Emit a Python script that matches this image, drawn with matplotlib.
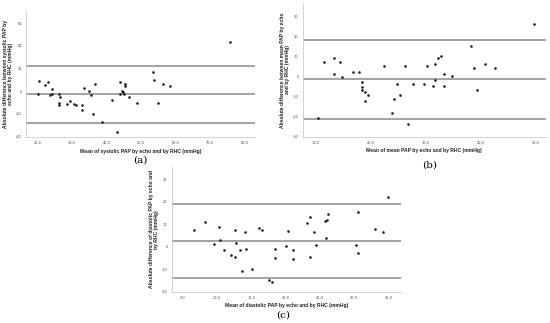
import matplotlib
matplotlib.use("Agg")
import matplotlib.pyplot as plt
import numpy as np

# ---- Data ----
a_x = [20.1, 20.6, 22.1, 23.2, 23.7, 24.1, 24.2, 26.2, 26.2, 26.2, 26.7, 28.6, 29.6, 30.6,
       31.1, 33.0, 33.0, 33.6, 35.0, 35.6, 36.1, 36.6, 38.6, 41.5, 43.0, 44.0, 44.0, 44.5,
       44.9, 45.1, 45.4, 45.4, 46.5, 49.0, 53.4, 53.9, 55.0, 56.4, 58.5, 75.8]
a_y = [-2.4, 8.9, 5.6, 7.7, -3.2, 1.8, -2.4, -2.4, -10.3, -12.1, -5.3, -11.2, -9.1, -11.2,
       -12.4, -12.1, -16.2, 2.7, 0.0, -3.2, -20.1, 6.5, -27.1, -7.4, -36.3, 8.0, -2.4, 0.6,
       -0.3, -2.4, 6.5, 4.7, -5.3, -10.3, 16.8, 10.0, -10.3, 6.8, 4.7, 43.7]
a_lines = [22.7, -2.9, -28.0]

b_x = [10.4, 11.4, 13.3, 13.3, 14.3, 14.8, 16.8, 17.8, 18.3, 18.3, 18.3, 18.9, 18.9, 19.4,
       22.3, 23.8, 24.2, 24.8, 25.3, 26.2, 26.8, 27.7, 29.7, 30.2, 31.2, 31.7, 31.7, 32.2,
       32.7, 33.2, 33.2, 34.7, 38.2, 38.7, 39.2, 40.7, 42.6, 49.6]
b_y = [-20.8, 7.2, 9.2, 1.2, 7.2, 0.0, 2.2, 2.2, -2.8, -5.0, -6.8, -7.8, -12.0, -9.0,
       5.2, -18.0, -11.0, -3.8, -9.0, 5.2, -23.8, -3.8, -3.8, 5.2, -4.8, 6.2, -1.8, 9.2,
       10.2, 1.2, -4.8, 0.2, 15.2, 4.2, -6.8, 6.2, 4.2, 26.2]
b_lines = [18.5, -1.2, -21.0]

c_x = [6.6, 8.3, 9.6, 10.3, 10.4, 11.1, 12.1, 12.6, 12.6, 12.8, 13.4, 13.6, 14.1, 14.3,
       15.1, 16.1, 16.6, 17.6, 18.1, 18.4, 18.4, 20.1, 20.4, 21.1, 21.1, 23.1, 23.6, 23.6,
       24.1, 24.4, 25.7, 26.0, 25.9, 26.2, 30.3, 30.6, 30.6, 33.0, 34.2, 34.9]
c_y = [7.2, 10.8, 1.3, 8.7, 2.8, -1.6, -3.8, 7.2, -4.7, 1.8, -1.3, -10.8, 6.4, -1.2,
       -9.8, 8.3, 7.2, -14.8, -15.8, -1.2, -5.2, 0.1, 6.8, -1.6, -5.6, 10.4, 13.3, -4.7,
       6.4, 0.7, 11.4, 11.8, 3.7, 14.3, 0.7, 15.4, -2.8, 7.8, 6.4, 21.9]
c_lines = [18.9, 2.7, -13.9]

panels = [
    dict(x=a_x, y=a_y, lines=a_lines, xlim=(16.7, 83.1), ylim=(-40.5, 71.8),
         xticks=[20, 30, 40, 50, 60, 70, 80], yticks=[-40, -20, 0, 20, 40, 60],
         xlabel="Mean of systolic PAP by echo and by RHC (mmHg)",
         ylabel="Absolute difference between systolic PAP by\necho and by RHC (mmHg)",
         tag="(a)", rect=(26, 10, 255, 137), tagpos=(140, 160)),
    dict(x=b_x, y=b_y, lines=b_lines, xlim=(7.6, 51.8), ylim=(-30, 36.8),
         xticks=[10, 20, 30, 40, 50], yticks=[-30, -20, -10, 0, 10, 20, 30],
         xlabel="Mean of mean PAP by echo and by RHC (mmHg)",
         ylabel="Absolute difference between mean PAP by echo\nand by RHC (mmHg)",
         tag="(b)", rect=(302.7, 3, 546, 136.7), tagpos=(430, 165)),
    dict(x=c_x, y=c_y, lines=c_lines, xlim=(3.4, 36.8), ylim=(-20, 35.5),
         xticks=[5, 10, 15, 20, 25, 30, 35], yticks=[-20, -10, 0, 10, 20, 30],
         xlabel="Mean of diastolic PAP by echo and by RHC (mmHg)",
         ylabel="Absolute difference of diastolic PAP by echo and\nby RHC (mmHg)",
         tag="(c)", rect=(171.7, 166.7, 400.7, 291.7), tagpos=(283, 315)),
]

W, H = 550, 323
fig = plt.figure(figsize=(W / 100, H / 100), dpi=100)
fig.patch.set_facecolor("white")

for p in panels:
    l, t, r, b = p["rect"]
    ax = fig.add_axes([l / W, 1 - b / H, (r - l) / W, (b - t) / H])
    ax.scatter(p["x"], p["y"], s=3.5, color="#1a1a1a", zorder=3, linewidths=0)
    for v in p["lines"]:
        ax.axhline(v, color="#9c9c9c", lw=1.3, zorder=2)
    ax.set_xlim(*p["xlim"])
    ax.set_ylim(*p["ylim"])
    ax.set_xticks(p["xticks"])
    ax.set_xticklabels([f"{v:.1f}".replace(".", ",") for v in p["xticks"]])
    ax.set_yticks(p["yticks"])
    ax.set_yticklabels([str(v) for v in p["yticks"]])
    ax.tick_params(length=0, labelsize=2.5, colors="#444444", pad=3)
    for s in ["top", "right"]:
        ax.spines[s].set_visible(False)
    for s in ["left", "bottom"]:
        ax.spines[s].set_color("#cccccc")
        ax.spines[s].set_linewidth(0.6)
    ax.set_xlabel(p["xlabel"], fontsize=3.6, fontweight="bold", labelpad=2.5,
                  color="#222222", family="Liberation Sans")
    ax.set_ylabel(p["ylabel"], fontsize=3.6, fontweight="bold", labelpad=2,
                  color="#222222", linespacing=1.0, family="Liberation Sans")
    fig.text(p["tagpos"][0] / W, 1 - p["tagpos"][1] / H, p["tag"], fontsize=7.5,
             family="DejaVu Serif", ha="center", va="center")

fig.savefig("out.png", dpi=100)
